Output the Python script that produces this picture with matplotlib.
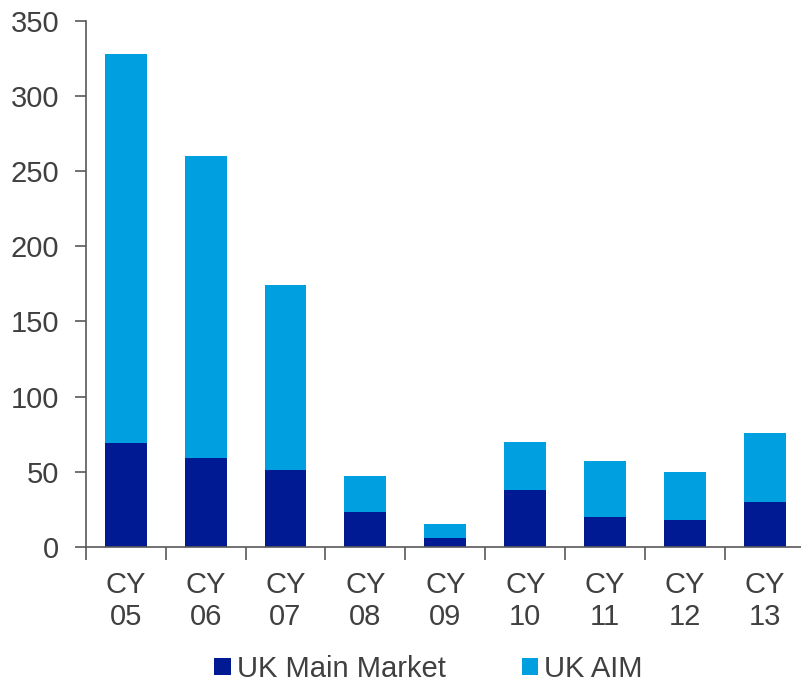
import numpy as np
import matplotlib.pyplot as plt

plt.rcParams['font.family'] = ['Liberation Sans', 'DejaVu Sans']

# data
categories = ["CY\n05", "CY\n06", "CY\n07", "CY\n08", "CY\n09",
              "CY\n10", "CY\n11", "CY\n12", "CY\n13"]
main_market = [69, 59, 51, 23, 6, 38, 20, 18, 30]
total = [328, 260, 174, 47, 15, 70, 57, 50, 76]
aim = [t - m for t, m in zip(total, main_market)]

c_main = "#001A94"
c_aim = "#00A0E0"
txt = "#404040"
spine_c = "#595959"

fig = plt.figure(figsize=(8.01, 6.84), dpi=100)
ax = fig.add_axes([0.107, 0.2003, 0.898, 0.7697])

x = np.arange(len(categories))
w = 0.525
ax.bar(x, main_market, width=w, color=c_main, label="UK Main Market")
ax.bar(x, aim, width=w, bottom=main_market, color=c_aim, label="UK AIM")

ax.set_ylim(0, 350)
ax.set_yticks(np.arange(0, 351, 50))
ax.set_xlim(-0.5, len(categories) - 0.5)

# boundary ticks (major, unlabeled) and labels at centers (minor)
ax.set_xticks(np.arange(-0.5, len(categories), 1.0))
ax.set_xticklabels([])
ax.set_xticks(x, minor=True)
ax.set_xticklabels(categories, minor=True, linespacing=1.2)
ax.tick_params(axis="x", which="major", direction="out", length=9,
               width=1.2, color=spine_c)
ax.tick_params(axis="x", which="minor", length=0, pad=17,
               labelsize=21, labelcolor=txt)
ax.tick_params(axis="y", direction="out", length=8, width=1.2,
               color=spine_c, labelsize=21, labelcolor=txt, pad=11)

for s in ["top", "right"]:
    ax.spines[s].set_visible(False)
for s in ["left", "bottom"]:
    ax.spines[s].set_color(spine_c)
    ax.spines[s].set_linewidth(1.2)

leg = fig.legend(loc="center", bbox_to_anchor=(0.535, 0.022), ncol=2,
                 frameon=False, fontsize=21, handlelength=0.55,
                 handleheight=0.55, handletextpad=0.22, columnspacing=2.6,
                 borderpad=0.1)
for t in leg.get_texts():
    t.set_color(txt)

fig.savefig("out.png", dpi=100)
